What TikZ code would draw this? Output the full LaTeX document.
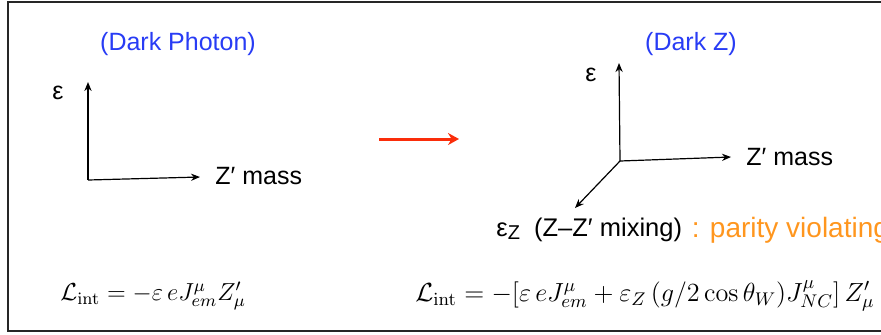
\RequirePackage{fix-cm}
\documentclass[tikz,border=0pt]{standalone}
\usepackage[no-math]{fontspec}
\setmainfont{Liberation Sans}
\usetikzlibrary{arrows.meta,positioning}
\definecolor{titleblue}{RGB}{40,60,245}
\definecolor{shiftred}{RGB}{250,45,10}
\definecolor{parorange}{RGB}{255,150,30}

\begin{document}
\begin{tikzpicture}[x=0.5pt, y=-0.5pt,
  font=\fontsize{12.5}{14}\selectfont,
  axis/.style={draw, line width=0.6pt, -{Stealth[length=4.5pt, width=3.6pt]}},
  title/.style={text=titleblue, inner sep=0pt},
  lbl/.style={inner sep=0pt},
  eqn/.style={inner sep=0pt, font=\fontsize{12.9}{15}\selectfont}]
\useasboundingbox (0,0) rectangle (881,334);
\draw[line width=1pt, black!85] (8,2) rectangle (900,331);
% ---------------- dark photon: two axes ----------------
\node[title] (tdp) at (178,44) {(Dark Photon)};
\coordinate (o1) at (88,180);
\coordinate (y1) at (88,82);
\coordinate (x1) at (200,177);
\draw[axis] (o1) -- (y1);
\draw[axis] (o1) -- (x1);
\node[lbl] (eps1) at (58,93) {ε};
\node[lbl, anchor=west] (mass1) at (215,176) {Z′ mass};
% ---------------- red arrow ----------------
\coordinate (ra) at (379,139);
\coordinate (rb) at (459,139);
\draw[shiftred, line width=1.5pt, -{Stealth[length=5.5pt, width=6pt]}] (ra) -- (rb);
% ---------------- dark Z: three axes ----------------
\node[title] (tdz) at (691,44) {(Dark Z)};
\coordinate (o2) at (620,161);
\coordinate (y2) at (619,63);
\coordinate (x2) at (731,157);
\coordinate (z2) at (575,208);
\draw[axis] (o2) -- (y2);
\draw[axis] (o2) -- (x2);
\draw[axis] (o2) -- (z2);
\node[lbl] (eps2) at (591,75) {ε};
\node[lbl, anchor=west] (mass2) at (746,157) {Z′ mass};
\node[lbl, anchor=west, font=\fontsize{12.75}{15}\selectfont] (mix) at (496,230) {ε{\fontsize{10}{10}\selectfont\raisebox{-0.3ex}{Z}}\ \ (Z–Z′ mixing)};
\node[lbl, anchor=west, text=parorange, font=\fontsize{14}{16}\selectfont, right=4.5pt of mix] (par) {: parity violating};
% ---------------- lagrangians ----------------
\node[eqn, anchor=west, font=\fontsize{12.3}{15}\selectfont] (lag1) at (60,296) {$\mathcal{L}_{\rm int} = -\varepsilon\, e J^\mu_{em} Z'_\mu$};
\node[eqn, anchor=west, font=\fontsize{13.1}{15}\selectfont] (lag2) at (415,296) {$\mathcal{L}_{\rm int} = -[\varepsilon\, e J^\mu_{em} + \varepsilon_Z\, (g/2\cos\theta_W) J^\mu_{NC}]\, Z'_\mu$};
\end{tikzpicture}
\end{document}
